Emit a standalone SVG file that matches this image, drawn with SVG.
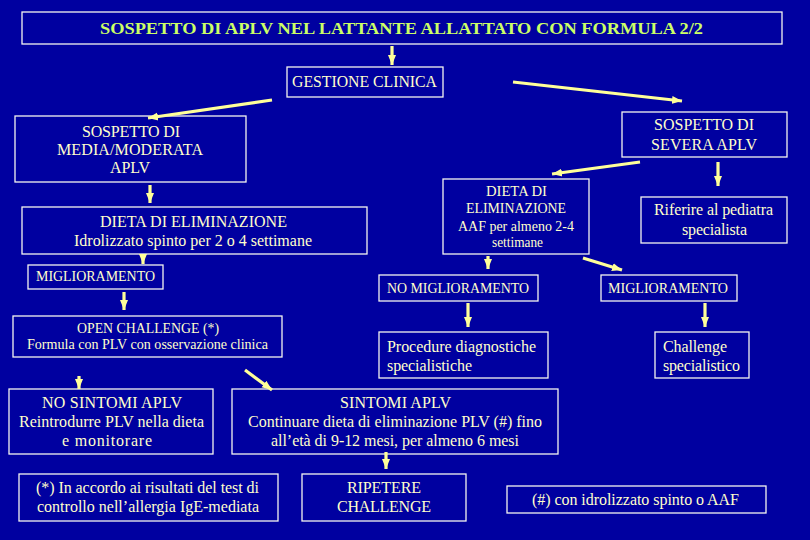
<svg xmlns="http://www.w3.org/2000/svg" width="810" height="540" viewBox="0 0 810 540">
<style>
.bx{fill:none;stroke:#f4f4f0;stroke-width:1.3}
.t{font-family:"Liberation Serif","Times New Roman",serif;font-size:16px;fill:#ffffcc}
.s{font-size:14px}
.ti{font-family:"Liberation Serif","Times New Roman",serif;font-size:17px;font-weight:bold;fill:#ccff66}
.c line{stroke:#ffff99;stroke-width:3.2;marker-end:url(#ah)}
</style>
<defs>
<marker id="ah" markerUnits="userSpaceOnUse" markerWidth="10" markerHeight="10" viewBox="0 0 10 10" refX="10" refY="5" orient="auto">
<path d="M0,1 L10,5 L0,9 Z" fill="#ffff99"/>
</marker>
</defs>
<rect width="810" height="540" fill="#0000a0"/>
<g id="title"><rect class="bx" x="22" y="12" width="760" height="32"/><text class="ti" x="100" y="34" textLength="603" lengthAdjust="spacingAndGlyphs">SOSPETTO DI APLV NEL LATTANTE ALLATTATO CON FORMULA 2/2</text></g>
<g id="gestione"><rect class="bx" x="287" y="67" width="156" height="30"/><text class="t" x="292" y="87" textLength="145" lengthAdjust="spacingAndGlyphs">GESTIONE CLINICA</text></g>
<g id="media"><rect class="bx" x="15" y="116" width="231" height="66"/>
<text class="t" x="82" y="137" textLength="98">SOSPETTO DI</text>
<text class="t" x="57" y="155" textLength="146">MEDIA/MODERATA</text>
<text class="t" x="110" y="173" textLength="40">APLV</text></g>
<g id="severa"><rect class="bx" x="622" y="112" width="165" height="45"/>
<text class="t" x="654" y="130" textLength="100">SOSPETTO DI</text>
<text class="t" x="651" y="150" textLength="106">SEVERA APLV</text></g>
<g id="dieta1"><rect class="bx" x="22" y="207" width="345" height="47"/>
<text class="t" x="100" y="227" textLength="187">DIETA DI ELIMINAZIONE</text>
<text class="t" x="74" y="246" textLength="238">Idrolizzato spinto per 2 o 4 settimane</text></g>
<g id="dieta2"><rect class="bx" x="443" y="179" width="146" height="75"/>
<text class="t s" x="486" y="196" textLength="61" lengthAdjust="spacingAndGlyphs">DIETA DI</text>
<text class="t s" x="466" y="213" textLength="100" lengthAdjust="spacingAndGlyphs">ELIMINAZIONE</text>
<text class="t s" x="458" y="231" textLength="116" lengthAdjust="spacingAndGlyphs">AAF per almeno 2-4</text>
<text class="t s" x="492" y="247" textLength="51" lengthAdjust="spacingAndGlyphs">settimane</text></g>
<g id="riferire"><rect class="bx" x="641" y="197" width="146" height="46"/>
<text class="t" x="654" y="215" textLength="119">Riferire al pediatra</text>
<text class="t" x="682" y="235" textLength="65">specialista</text></g>
<g id="migl1"><rect class="bx" x="28" y="265" width="135" height="24"/><text class="t s" x="36" y="281" textLength="119" lengthAdjust="spacingAndGlyphs">MIGLIORAMENTO</text></g>
<g id="nomigl"><rect class="bx" x="379" y="275" width="159" height="26"/><text class="t s" x="387" y="293" textLength="142" lengthAdjust="spacingAndGlyphs">NO MIGLIORAMENTO</text></g>
<g id="migl2"><rect class="bx" x="601" y="275" width="136" height="26"/><text class="t s" x="608" y="293" textLength="120" lengthAdjust="spacingAndGlyphs">MIGLIORAMENTO</text></g>
<g id="open"><rect class="bx" x="13" y="316" width="269" height="41"/>
<text class="t s" x="77" y="333" textLength="142" lengthAdjust="spacingAndGlyphs">OPEN CHALLENGE (*)</text>
<text class="t s" x="27" y="349" textLength="241" lengthAdjust="spacingAndGlyphs">Formula con PLV con osservazione clinica</text></g>
<g id="procedure"><rect class="bx" x="379" y="332" width="169" height="46"/>
<text class="t" x="387" y="352" textLength="149">Procedure diagnostiche</text>
<text class="t" x="387" y="371" textLength="85">specialistiche</text></g>
<g id="challenge"><rect class="bx" x="655" y="332" width="94" height="46"/>
<text class="t" x="663" y="352" textLength="64">Challenge</text>
<text class="t" x="663" y="371" textLength="77">specialistico</text></g>
<g id="nosintomi"><rect class="bx" x="9" y="389" width="204" height="65"/>
<text class="t" x="42" y="408" textLength="140">NO SINTOMI APLV</text>
<text class="t" x="19" y="427" textLength="185">Reintrodurre PLV nella dieta</text>
<text class="t" x="62" y="446" textLength="90">e monitorare</text></g>
<g id="sintomi"><rect class="bx" x="232" y="389" width="326" height="65"/>
<text class="t" x="340" y="408" textLength="111">SINTOMI APLV</text>
<text class="t" x="248" y="427" textLength="294">Continuare dieta di eliminazione PLV (#) fino</text>
<text class="t" x="271" y="446" textLength="248">all’età di 9-12 mesi, per almeno 6 mesi</text></g>
<g id="nota1"><rect class="bx" x="19" y="474" width="259" height="47"/>
<text class="t" x="36" y="493" textLength="223">(*) In accordo ai risultati del test di</text>
<text class="t" x="37" y="512" textLength="222">controllo nell’allergia IgE-mediata</text></g>
<g id="ripetere"><rect class="bx" x="302" y="474" width="164" height="47"/>
<text class="t" x="347" y="493" textLength="74">RIPETERE</text>
<text class="t" x="337" y="512" textLength="94">CHALLENGE</text></g>
<g id="nota2"><rect class="bx" x="507" y="486" width="259" height="27"/>
<text class="t" x="532" y="505" textLength="207">(#) con idrolizzato spinto o AAF</text></g>
<g id="connectors" class="c">
<line x1="392" y1="46" x2="392" y2="65"/>
<line x1="272" y1="100" x2="148" y2="118"/>
<line x1="513" y1="82" x2="682" y2="101"/>
<line x1="150" y1="185" x2="150" y2="203"/>
<line x1="640" y1="162" x2="552" y2="174"/>
<line x1="718" y1="162" x2="718" y2="186"/>
<line x1="143" y1="254" x2="143" y2="264"/>
<line x1="124" y1="292" x2="124" y2="310"/>
<line x1="488" y1="256" x2="488" y2="269"/>
<line x1="583" y1="258" x2="622" y2="270"/>
<line x1="468" y1="303" x2="468" y2="327"/>
<line x1="705" y1="303" x2="705" y2="327"/>
<line x1="79" y1="376" x2="79" y2="389"/>
<line x1="245" y1="370" x2="272" y2="390"/>
<line x1="386" y1="452" x2="386" y2="469"/>
</g>
</svg>
